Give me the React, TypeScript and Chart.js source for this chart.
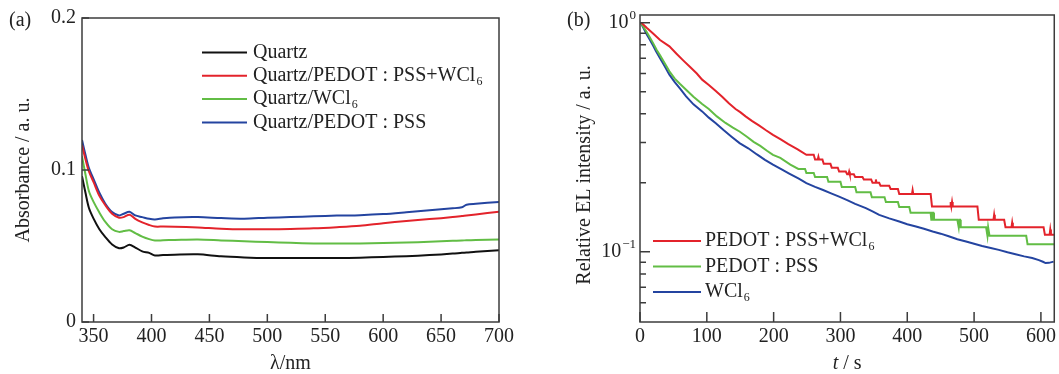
import React, { useEffect, useRef } from 'react';
import { Chart, registerables } from 'chart.js';

Chart.register(...registerables);

const FONT = '"Liberation Serif", "Times New Roman", Times, serif';
const INK = '#222222';
const FRAME = '#3c3c3c';
const C_BLACK = '#111111';
const C_RED = '#e3232b';
const C_GREEN = '#62bd45';
const C_BLUE = '#2444a0';

// ---------------- Panel (a): absorbance spectra ----------------
const WAVELENGTH_NM = [340, 343, 346, 350, 355, 360, 366, 372, 376, 381, 386, 392, 398, 403, 410, 420, 440, 460, 480, 500, 520, 540, 560, 580, 600, 620, 640, 660, 668, 672, 680, 700];
const ABS_QUARTZ = [0.096, 0.085, 0.075, 0.068, 0.061, 0.056, 0.051, 0.0485, 0.049, 0.0508, 0.049, 0.0465, 0.0455, 0.0438, 0.044, 0.0443, 0.0445, 0.0432, 0.0425, 0.0421, 0.0421, 0.0421, 0.0421, 0.0423, 0.0428, 0.0433, 0.044, 0.045, 0.0455, 0.0457, 0.0462, 0.0472];
const ABS_PEDOT_WCL6 = [0.1164, 0.107, 0.099, 0.092, 0.083, 0.077, 0.0712, 0.0686, 0.069, 0.0706, 0.0678, 0.0655, 0.0638, 0.0628, 0.0628, 0.0627, 0.0622, 0.0614, 0.061, 0.061, 0.0612, 0.0616, 0.0624, 0.0634, 0.065, 0.0664, 0.0677, 0.069, 0.0697, 0.0701, 0.0708, 0.0725];
const ABS_WCL6 = [0.109, 0.097, 0.086, 0.079, 0.072, 0.066, 0.061, 0.0593, 0.0598, 0.0604, 0.0585, 0.0562, 0.0545, 0.0536, 0.0538, 0.054, 0.0543, 0.0537, 0.0531, 0.0526, 0.0521, 0.0517, 0.0516, 0.0517, 0.0519, 0.0523, 0.0528, 0.0534, 0.0536, 0.0538, 0.054, 0.0543];
const ABS_PEDOT = [0.1197, 0.11, 0.1012, 0.094, 0.085, 0.078, 0.0723, 0.0701, 0.0712, 0.0725, 0.0701, 0.069, 0.0679, 0.0675, 0.0682, 0.0688, 0.069, 0.0684, 0.068, 0.0686, 0.069, 0.0695, 0.07, 0.0703, 0.071, 0.0722, 0.0735, 0.0748, 0.0755, 0.0772, 0.0778, 0.079];
const LABELS_A = ['Quartz', 'Quartz/PEDOT : PSS+WCl\u2086', 'Quartz/WCl\u2086', 'Quartz/PEDOT : PSS'];
const X_TICKS_A = [350, 400, 450, 500, 550, 600, 650, 700];
const Y_TICKS_A = [0, 0.1, 0.2];

// ---------------- Panel (b): EL decay ----------------
const T_RED = [2, 10, 20, 30, 44, 55, 65, 75, 85, 93, 103, 113, 123, 133, 143, 150, 158, 168, 178, 188, 199, 210, 222, 236, 249, 260, 262, 266, 267, 268, 273, 275, 285, 287, 296, 298, 308, 310, 312, 313, 314, 320, 322, 333, 335, 346, 348, 352, 353, 354, 358, 360, 373, 375, 386, 388, 407, 408, 409, 435, 437, 464, 465, 466, 467, 468, 505, 507, 529, 530, 531, 545, 547, 556, 557, 558, 604, 606, 613, 614, 615, 620];
const I_RED = [1.0, 0.95, 0.895, 0.84, 0.788, 0.73, 0.683, 0.64, 0.6, 0.564, 0.535, 0.505, 0.475, 0.445, 0.42, 0.407, 0.39, 0.372, 0.356, 0.34, 0.324, 0.31, 0.295, 0.28, 0.265, 0.265, 0.253, 0.253, 0.26, 0.253, 0.253, 0.242, 0.242, 0.233, 0.233, 0.224, 0.224, 0.218, 0.218, 0.224, 0.218, 0.218, 0.212, 0.212, 0.207, 0.207, 0.2, 0.2, 0.207, 0.2, 0.2, 0.194, 0.194, 0.188, 0.188, 0.1786, 0.1786, 0.186, 0.1786, 0.1786, 0.1577, 0.1577, 0.165, 0.1577, 0.165, 0.1577, 0.1577, 0.138, 0.138, 0.145, 0.138, 0.138, 0.128, 0.128, 0.134, 0.128, 0.128, 0.1186, 0.1186, 0.125, 0.1186, 0.1186];
const T_GREEN = [1, 5, 10, 15, 20, 25, 30, 37, 44, 52, 60, 69, 80, 93, 103, 115, 128, 139, 149, 160, 170, 180, 190, 199, 210, 225, 237, 247, 249, 260, 262, 280, 282, 300, 302, 322, 324, 345, 347, 366, 368, 386, 388, 403, 405, 435, 436, 437, 439, 440, 475, 477, 478, 479, 480, 518, 520, 521, 522, 523, 578, 580, 620];
const I_GREEN = [1.0, 0.96, 0.91, 0.86, 0.81, 0.76, 0.72, 0.665, 0.613, 0.57, 0.54, 0.51, 0.475, 0.4415, 0.42, 0.39, 0.365, 0.348, 0.335, 0.318, 0.302, 0.29, 0.276, 0.265, 0.257, 0.24, 0.23, 0.23, 0.221, 0.221, 0.212, 0.212, 0.202, 0.202, 0.192, 0.192, 0.182, 0.182, 0.173, 0.173, 0.165, 0.165, 0.157, 0.157, 0.148, 0.148, 0.138, 0.148, 0.148, 0.138, 0.138, 0.128, 0.138, 0.138, 0.128, 0.128, 0.1175, 0.128, 0.128, 0.1175, 0.1175, 0.108, 0.108];
const T_BLUE = [1, 5, 10, 15, 20, 24, 30, 37, 44, 52, 60, 69, 80, 93, 103, 113, 125, 137, 149, 162, 175, 187, 199, 212, 224, 237, 249, 262, 274, 286, 298, 310, 322, 338, 348, 358, 373, 388, 400, 413, 425, 438, 450, 462, 475, 488, 500, 512, 525, 537, 550, 562, 575, 587, 597, 603, 607, 612, 619];
const I_BLUE = [1.0, 0.95, 0.89, 0.84, 0.79, 0.75, 0.7, 0.645, 0.593, 0.55, 0.515, 0.477, 0.44, 0.41, 0.385, 0.365, 0.34, 0.318, 0.298, 0.283, 0.266, 0.252, 0.24, 0.229, 0.219, 0.209, 0.1995, 0.192, 0.186, 0.18, 0.174, 0.168, 0.162, 0.155, 0.15, 0.145, 0.14, 0.1356, 0.132, 0.129, 0.126, 0.1227, 0.12, 0.117, 0.1135, 0.111, 0.1085, 0.106, 0.104, 0.102, 0.0995, 0.0975, 0.0955, 0.0939, 0.092, 0.0905, 0.0893, 0.0895, 0.0906];
const LABELS_B = ['PEDOT : PSS+WCl\u2086', 'PEDOT : PSS', 'WCl\u2086'];
const X_TICKS_B = [0, 100, 200, 300, 400, 500, 600];
const Y_TICKS_B = [0.06, 0.07, 0.08, 0.09, 0.1, 0.2, 0.3, 0.4, 0.5, 0.6, 0.7, 0.8, 0.9, 1];
const Y_MAJOR_B = [0.1, 1];
const Y_MAJOR_EXP_B = ['\u22121', '0'];

const zip = (xs: number[], ys: number[]) => xs.map((x, i) => ({ x, y: ys[i] }));

const SUB6 = '\u2086';
function drawRich(ctx: CanvasRenderingContext2D, text: string, x: number, y: number, size: number) {
  const parts = text.split(SUB6);
  let cx = x;
  parts.forEach((p, i) => {
    ctx.font = `${size}px ${FONT}`;
    ctx.fillText(p, cx, y);
    cx += ctx.measureText(p).width;
    if (i < parts.length - 1) {
      ctx.font = `${Math.round(size * 0.62)}px ${FONT}`;
      ctx.fillText('6', cx + 1, y + size * 0.3);
      cx += ctx.measureText('6').width + 1;
    }
  });
}

type Decor = {
  panel: string; panelX: number; panelY: number;
  tickX: number; tickY: number; tickYMinor: number;
  yMajor?: number[];
  logLabels?: { values: number[]; exps: string[]; gap: number };
  legend: { x: number; y: number; dy: number; len: number; gap: number };
  italicXTitle?: { italic: string; rest: string; y: number };
  yTitle?: { text: string; x: number; y: number };
};

function makeDecor(d: Decor) {
  return {
    id: 'decor',
    afterDatasetsDraw(chart: any) {
      const ctx: CanvasRenderingContext2D = chart.ctx;
      const a = chart.chartArea;
      const xs = chart.scales.x;
      const ys = chart.scales.y;
      ctx.save();
      ctx.strokeStyle = FRAME;
      ctx.lineWidth = 1.5;
      ctx.beginPath();
      xs.ticks.forEach((t: any) => {
        const p = xs.getPixelForValue(t.value);
        ctx.moveTo(p, a.bottom);
        ctx.lineTo(p, a.bottom - d.tickX);
      });
      ys.ticks.forEach((t: any) => {
        const major = !d.yMajor || d.yMajor.some((m) => Math.abs(m - t.value) < 1e-9);
        const len = major ? d.tickY : d.tickYMinor;
        const p = ys.getPixelForValue(t.value);
        ctx.moveTo(a.left, p);
        ctx.lineTo(a.left + len, p);
      });
      ctx.stroke();
      ctx.strokeRect(a.left, a.top, a.right - a.left, a.bottom - a.top);

      ctx.fillStyle = INK;
      ctx.textBaseline = 'middle';
      ctx.textAlign = 'left';

      if (d.logLabels) {
        const L = d.logLabels;
        L.values.forEach((v, i) => {
          const py = ys.getPixelForValue(v);
          ctx.font = `20px ${FONT}`;
          const wb = ctx.measureText('10').width;
          ctx.font = `13px ${FONT}`;
          const we = ctx.measureText(L.exps[i]).width;
          const x0 = a.left - L.gap - wb - we - 1;
          ctx.font = `20px ${FONT}`;
          ctx.fillText('10', x0, py);
          ctx.font = `13px ${FONT}`;
          ctx.fillText(L.exps[i], x0 + wb + 1, py - 7);
        });
      }

      if (d.italicXTitle) {
        const T = d.italicXTitle;
        ctx.font = `italic 20px ${FONT}`;
        const wi = ctx.measureText(T.italic).width;
        ctx.font = `20px ${FONT}`;
        const wr = ctx.measureText(T.rest).width;
        const cx = (a.left + a.right) / 2 - (wi + wr) / 2;
        ctx.font = `italic 20px ${FONT}`;
        ctx.fillText(T.italic, cx, T.y);
        ctx.font = `20px ${FONT}`;
        ctx.fillText(T.rest, cx + wi, T.y);
      }

      if (d.yTitle) {
        const Y = d.yTitle;
        ctx.save();
        ctx.translate(Y.x, Y.y);
        ctx.rotate(-Math.PI / 2);
        ctx.textAlign = 'center';
        ctx.font = `20px ${FONT}`;
        ctx.fillText(Y.text, 0, 0);
        ctx.restore();
      }

      const L = d.legend;
      chart.data.datasets.forEach((ds: any, i: number) => {
        const y = L.y + i * L.dy;
        ctx.strokeStyle = ds.borderColor;
        ctx.lineWidth = 2;
        ctx.beginPath();
        ctx.moveTo(L.x, y);
        ctx.lineTo(L.x + L.len, y);
        ctx.stroke();
        ctx.fillStyle = INK;
        drawRich(ctx, ds.label, L.x + L.len + L.gap, y, 20);
      });

      ctx.font = `20px ${FONT}`;
      ctx.fillStyle = INK;
      ctx.textAlign = 'left';
      ctx.fillText(d.panel, d.panelX, d.panelY);
      ctx.restore();
    },
  };
}

const tickFont = { family: FONT, size: 20 };

function configA(): any {
  const series = [ABS_QUARTZ, ABS_PEDOT_WCL6, ABS_WCL6, ABS_PEDOT];
  const colors = [C_BLACK, C_RED, C_GREEN, C_BLUE];
  return {
    type: 'line',
    data: {
      datasets: series.map((s, i) => ({
        label: LABELS_A[i],
        data: zip(WAVELENGTH_NM, s),
        borderColor: colors[i],
        backgroundColor: colors[i],
        borderWidth: 2,
        pointRadius: 0,
        tension: 0.3,
        fill: false,
      })),
    },
    options: {
      animation: false,
      responsive: false,
      devicePixelRatio: 1,
      layout: { padding: { left: 0, right: 31, top: 15, bottom: 0 } },
      plugins: { legend: { display: false }, tooltip: { enabled: false } },
      scales: {
        x: {
          type: 'linear', min: 340, max: 700,
          afterBuildTicks: (s: any) => { s.ticks = X_TICKS_A.map((v) => ({ value: v })); },
          afterFit: (s: any) => { s.height = 52; },
          grid: { display: false, drawTicks: false },
          border: { display: false },
          ticks: { font: tickFont, color: INK, padding: 3, maxRotation: 0, autoSkip: false, callback: (v: any) => String(v) },
          title: { display: true, text: '\u03bb/nm', font: tickFont, color: INK, padding: { top: 0, bottom: -2 } },
        },
        y: {
          type: 'linear', min: 0, max: 0.2,
          afterBuildTicks: (s: any) => { s.ticks = Y_TICKS_A.map((v) => ({ value: v })); },
          afterFit: (s: any) => { s.width = 82; },
          grid: { display: false, drawTicks: false },
          border: { display: false },
          ticks: { font: tickFont, color: INK, padding: 6, autoSkip: false, callback: (v: any) => String(v) },
          title: { display: true, text: 'Absorbance / a. u.', font: tickFont, color: INK, padding: { top: 12, bottom: 0 } },
        },
      },
    },
    plugins: [makeDecor({
      panel: '(a)', panelX: 9, panelY: 21,
      tickX: 8, tickY: 7, tickYMinor: 7,
      legend: { x: 202, y: 52.5, dy: 23.3, len: 45, gap: 6 },
    })],
  };
}

function configB(): any {
  const ts = [T_RED, T_GREEN, T_BLUE];
  const is = [I_RED, I_GREEN, I_BLUE];
  const colors = [C_RED, C_GREEN, C_BLUE];
  return {
    type: 'line',
    data: {
      datasets: ts.map((t, i) => ({
        label: LABELS_B[i],
        data: zip(t, is[i]),
        borderColor: colors[i],
        backgroundColor: colors[i],
        borderWidth: 2,
        pointRadius: 0,
        tension: 0,
        fill: false,
      })),
    },
    options: {
      animation: false,
      responsive: false,
      devicePixelRatio: 1,
      layout: { padding: { left: 0, right: 3, top: 15, bottom: 0 } },
      plugins: { legend: { display: false }, tooltip: { enabled: false } },
      scales: {
        x: {
          type: 'linear', min: 0, max: 620,
          afterBuildTicks: (s: any) => { s.ticks = X_TICKS_B.map((v) => ({ value: v })); },
          afterFit: (s: any) => { s.height = 52; },
          grid: { display: false, drawTicks: false },
          border: { display: false },
          ticks: { font: tickFont, color: INK, padding: 3, maxRotation: 0, autoSkip: false, callback: (v: any) => String(v) },
          title: { display: false },
        },
        y: {
          type: 'logarithmic', min: 0.0494, max: 1.08,
          afterBuildTicks: (s: any) => { s.ticks = Y_TICKS_B.map((v) => ({ value: v, major: Y_MAJOR_B.includes(v) })); },
          afterFit: (s: any) => { s.width = 110; },
          grid: { display: false, drawTicks: false },
          border: { display: false },
          ticks: { display: false },
          title: { display: false },
        },
      },
    },
    plugins: [makeDecor({
      panel: '(b)', panelX: 37, panelY: 21,
      tickX: 10, tickY: 10, tickYMinor: 6,
      yMajor: Y_MAJOR_B,
      logLabels: { values: Y_MAJOR_B, exps: Y_MAJOR_EXP_B, gap: 4 },
      legend: { x: 123, y: 241, dy: 25.5, len: 48, gap: 4 },
      italicXTitle: { italic: 't', rest: ' / s', y: 364 },
      yTitle: { text: 'Relative EL intensity / a. u.', x: 55, y: 175 },
    })],
  };
}

export default function App() {
  const refA = useRef<HTMLCanvasElement>(null);
  const refB = useRef<HTMLCanvasElement>(null);
  useEffect(() => {
    const ca = new Chart(refA.current as HTMLCanvasElement, configA());
    const cb = new Chart(refB.current as HTMLCanvasElement, configB());
    return () => { ca.destroy(); cb.destroy(); };
  }, []);
  return (
    <div style={{ position: 'absolute', left: 0, top: 0, width: 1059, height: 374, background: '#ffffff', overflow: 'hidden' }}>
      <canvas ref={refA} width={530} height={374} style={{ position: 'absolute', left: 0, top: 0, width: 530, height: 374 }} />
      <canvas ref={refB} width={529} height={374} style={{ position: 'absolute', left: 530, top: 0, width: 529, height: 374 }} />
    </div>
  );
}
